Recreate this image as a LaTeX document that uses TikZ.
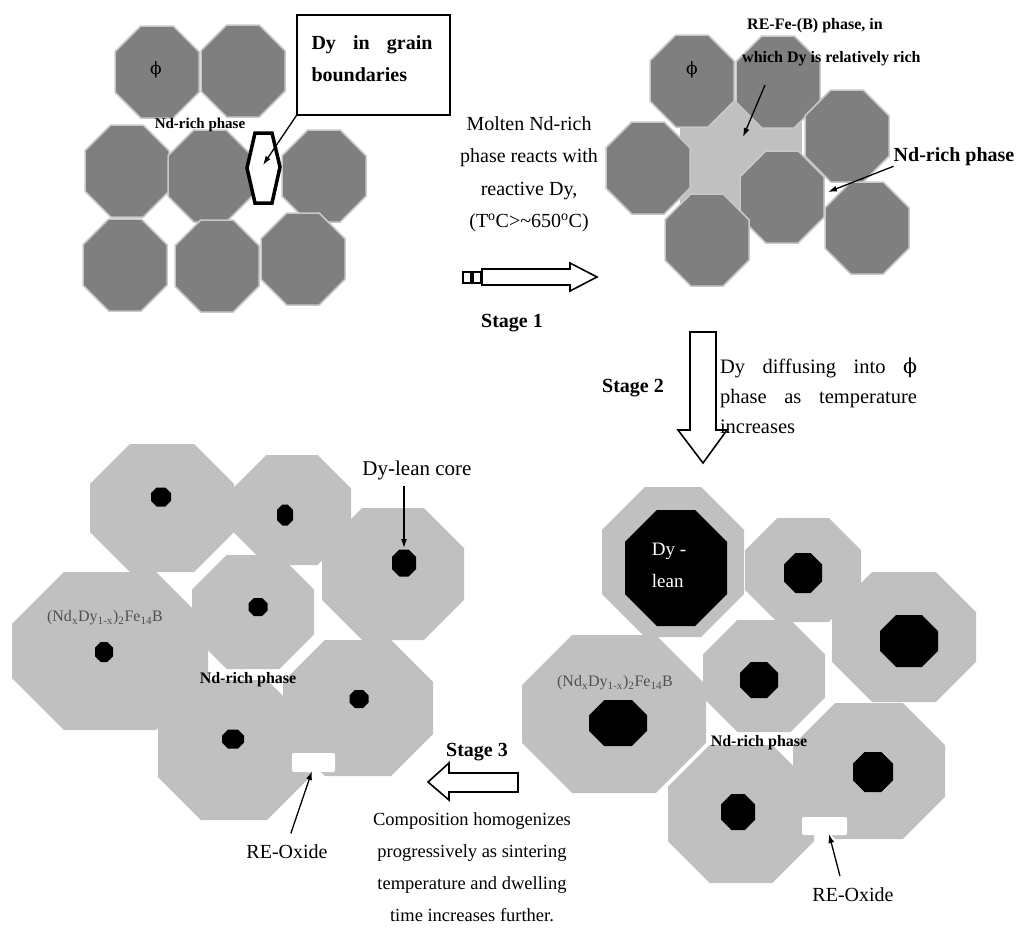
\documentclass[tikz,border=0pt]{standalone}
\usepackage{fontspec}
\setmainfont{Liberation Serif}
\newfontfamily\greekfont{DejaVu Serif}
\usepackage{tikz}
\usetikzlibrary{arrows.meta}

\definecolor{grainDark}{HTML}{7F7F7F}
\definecolor{grainEdge}{HTML}{C8C8C8}
\definecolor{grainLight}{HTML}{C0C0C0}
\definecolor{formulaGray}{HTML}{505050}

\newcommand{\phisym}{{\greekfont ϕ}}

\tikzset{
    dark grain/.style={fill=grainDark, draw=grainEdge, line width=1.5pt},
    light grain/.style={fill=grainLight},
    core/.style={fill=black},
    oxide/.style={fill=white, rounded corners=2pt},
    block arrow/.style={draw=black, fill=white, line width=1.6pt},
    pointer/.style={-{Latex[length=9pt,width=6pt]}, line width=1.3pt},
    body text/.style={inner sep=0pt, align=center},
    stage/.style={inner sep=0pt, font=\bfseries\fontsize{20}{24}\selectfont},
    phase tag/.style={inner sep=0pt, font=\bfseries\fontsize{16}{19}\selectfont},
    formula/.style={inner sep=0pt, text=formulaGray, font=\fontsize{16}{19}\selectfont},
    phi/.style={inner sep=0pt, font=\fontsize{17}{20}\selectfont},
}

% 八角形の粒子: スタイル, 中心x, 中心y, 半幅, 半高
\newcommand{\grainoct}[5]{%
    \pgfmathsetmacro{\octc}{0.293*(#4+#5)}
    \path[#1] ({#2-#4+\octc},{#3-#5}) -- ({#2+#4-\octc},{#3-#5}) -- ({#2+#4},{#3-#5+\octc})
        -- ({#2+#4},{#3+#5-\octc}) -- ({#2+#4-\octc},{#3+#5}) -- ({#2-#4+\octc},{#3+#5})
        -- ({#2-#4},{#3+#5-\octc}) -- ({#2-#4},{#3-#5+\octc}) -- cycle;
}

\begin{document}
\begin{tikzpicture}[x=1pt, y=-1pt]
    \useasboundingbox (0,0) rectangle (1019,927);

    % 初期状態
    \foreach \cx/\cy in {157/72, 243/71, 127/171, 210/176, 324/176, 125/265, 217/266, 303/259}
        \grainoct{dark grain}{\cx}{\cy}{42}{46};
    \filldraw[fill=white, draw=black, line width=3.5pt] (255,133) -- (272,133) -- (280,167)
        -- (272,203) -- (255,203) -- (247,168) -- cycle;
    \coordinate (dyHex) at (263,165);
    \node[phi] (phiA) at (156,70) {\phisym};
    \node[phase tag, font=\bfseries\fontsize{15}{18}\selectfont] (ndrichA) at (200,125) {Nd-rich phase};
    \node[draw, line width=1.2pt, minimum width=153pt, minimum height=100pt, inner sep=0pt] (callout) at (373.5,65) {};
    \node[inner sep=0pt, text width=121pt, align=left, font=\bfseries\fontsize{20}{32}\selectfont]
        (calloutText) at (372,59) {Dy\hfill in\hfill grain\\boundaries};
    \draw[pointer] (callout.south west) -- (dyHex);

    % ステージ1
    \node[body text, font=\fontsize{20}{32.5}\selectfont] (molten) at (529,174)
        {Molten Nd-rich\\phase reacts with\\reactive Dy,\\(T\textsuperscript{o}C>\textasciitilde650\textsuperscript{o}C)};
    \draw[block arrow] (463,272) rectangle (471,283);
    \draw[block arrow] (473,272) rectangle (481,283);
    \draw[block arrow] (482,269) -- (570,269) -- (570,263) -- (597,277) -- (570,291) -- (570,285) -- (482,285) -- cycle;
    \node[stage] (stageOne) at (512,323) {Stage 1};

    % 反応後
    \fill[grainLight] (680,100) rectangle (802,212);
    \foreach \cx/\cy in {692/81, 778/82, 648/168, 782/197, 847/136, 707/240, 867/228}
        \grainoct{dark grain}{\cx}{\cy}{42}{46};
    \node[phi] (phiB) at (692,70) {\phisym};
    \node[phase tag, align=left, anchor=west, font=\bfseries\fontsize{16}{33}\selectfont] (refe) at (742,42)
        {\hspace*{5pt}RE-Fe-(B) phase, in\\which Dy is relatively rich};
    \coordinate (refeTail) at (765,85);
    \coordinate (refeTip) at (743,137);
    \draw[pointer] (refeTail) -- (refeTip);
    \node[stage] (ndrichB) at (954,157) {Nd-rich phase};
    \coordinate (ndGap) at (828,192);
    \draw[pointer] (ndrichB.south west) -- (ndGap);

    % ステージ2
    \draw[block arrow] (690,332) -- (716,332) -- (716,430) -- (727,430) -- (703,463) -- (678,430) -- (690,430) -- cycle;
    \node[stage] (stageTwo) at (633,388) {Stage 2};
    \node[inner sep=0pt, text width=197pt, align=left, font=\fontsize{20.5}{30}\selectfont] (diffuse) at (818.5,396)
        {Dy\hfill diffusing\hfill into\hfill \phisym\\phase\hfill as\hfill temperature\\increases};

    % 拡散後
    \foreach \cx/\cy/\a/\b in {673/562/71/75, 803/570/58/52, 904/637/72/65, 764/676/61/56,
                               614/714/92/79, 741/814/73/69, 869/771/76/68}
        \grainoct{light grain}{\cx}{\cy}{\a}{\b};
    \foreach \cx/\cy/\a/\b in {676/568/51/58, 803/573/19/20, 909/641/29/26, 759/680/19/18,
                               618/723/29/23, 738/812/17/18, 873/772/20/20}
        \grainoct{core}{\cx}{\cy}{\a}{\b};
    \fill[oxide] (802,817) rectangle (847,835);
    \coordinate (oxideR) at (829,834);
    \node[body text, align=left, text=white, font=\fontsize{19}{32}\selectfont] (dyLean) at (669,565) {Dy -\\lean};
    \node[formula] (formulaR) at (615,683) {(Nd\textsubscript{x}Dy\textsubscript{1-x})\textsubscript{2}Fe\textsubscript{14}B};
    \node[phase tag] (ndrichD) at (759,743) {Nd-rich phase};
    \node[body text, font=\fontsize{20}{24}\selectfont] (reoxideR) at (853,895) {RE-Oxide};
    \draw[pointer, shorten <=12pt] ([xshift=-10pt]reoxideR.north) -- (oxideR);

    % ステージ3
    \draw[block arrow] (518,773) -- (518,792) -- (449,792) -- (449,800) -- (428,782) -- (449,763) -- (449,773) -- cycle;
    \node[stage] (stageThree) at (477,752) {Stage 3};
    \node[body text, font=\fontsize{18.5}{32}\selectfont] (compo) at (472,867)
        {Composition homogenizes\\progressively as sintering\\temperature and dwelling\\time increases further.};

    % 均質化後
    \foreach \cx/\cy/\a/\b in {162/508/72/64, 292/510/59/55, 393/574/71/66, 253/612/61/57,
                               110/651/98/79, 234/750/76/70, 358/708/75/68}
        \grainoct{light grain}{\cx}{\cy}{\a}{\b};
    \foreach \cx/\cy/\a/\b in {161/497/10/9.5, 285/515/8/10.5, 404/563/12/13.5, 258/607/9.5/9,
                               104/652/9/10, 233/739/11/9.5, 359/699/9.5/9}
        \grainoct{core}{\cx}{\cy}{\a}{\b};
    \fill[oxide] (292,753) rectangle (335,772);
    \coordinate (oxideL) at (312,771);
    \coordinate (coreTip) at (404,548);
    \node[body text, font=\fontsize{21}{25}\selectfont] (coreLabel) at (417,470) {Dy-lean core};
    \draw[pointer, shorten <=6pt] (coreLabel.south -| coreTip) -- (coreTip);
    \node[formula] (formulaL) at (105,618) {(Nd\textsubscript{x}Dy\textsubscript{1-x})\textsubscript{2}Fe\textsubscript{14}B};
    \node[phase tag] (ndrichC) at (248,680) {Nd-rich phase};
    \node[body text, font=\fontsize{20}{24}\selectfont] (reoxideL) at (287,852) {RE-Oxide};
    \draw[pointer, shorten <=12pt] (reoxideL.north) -- (oxideL);
\end{tikzpicture}
\end{document}
